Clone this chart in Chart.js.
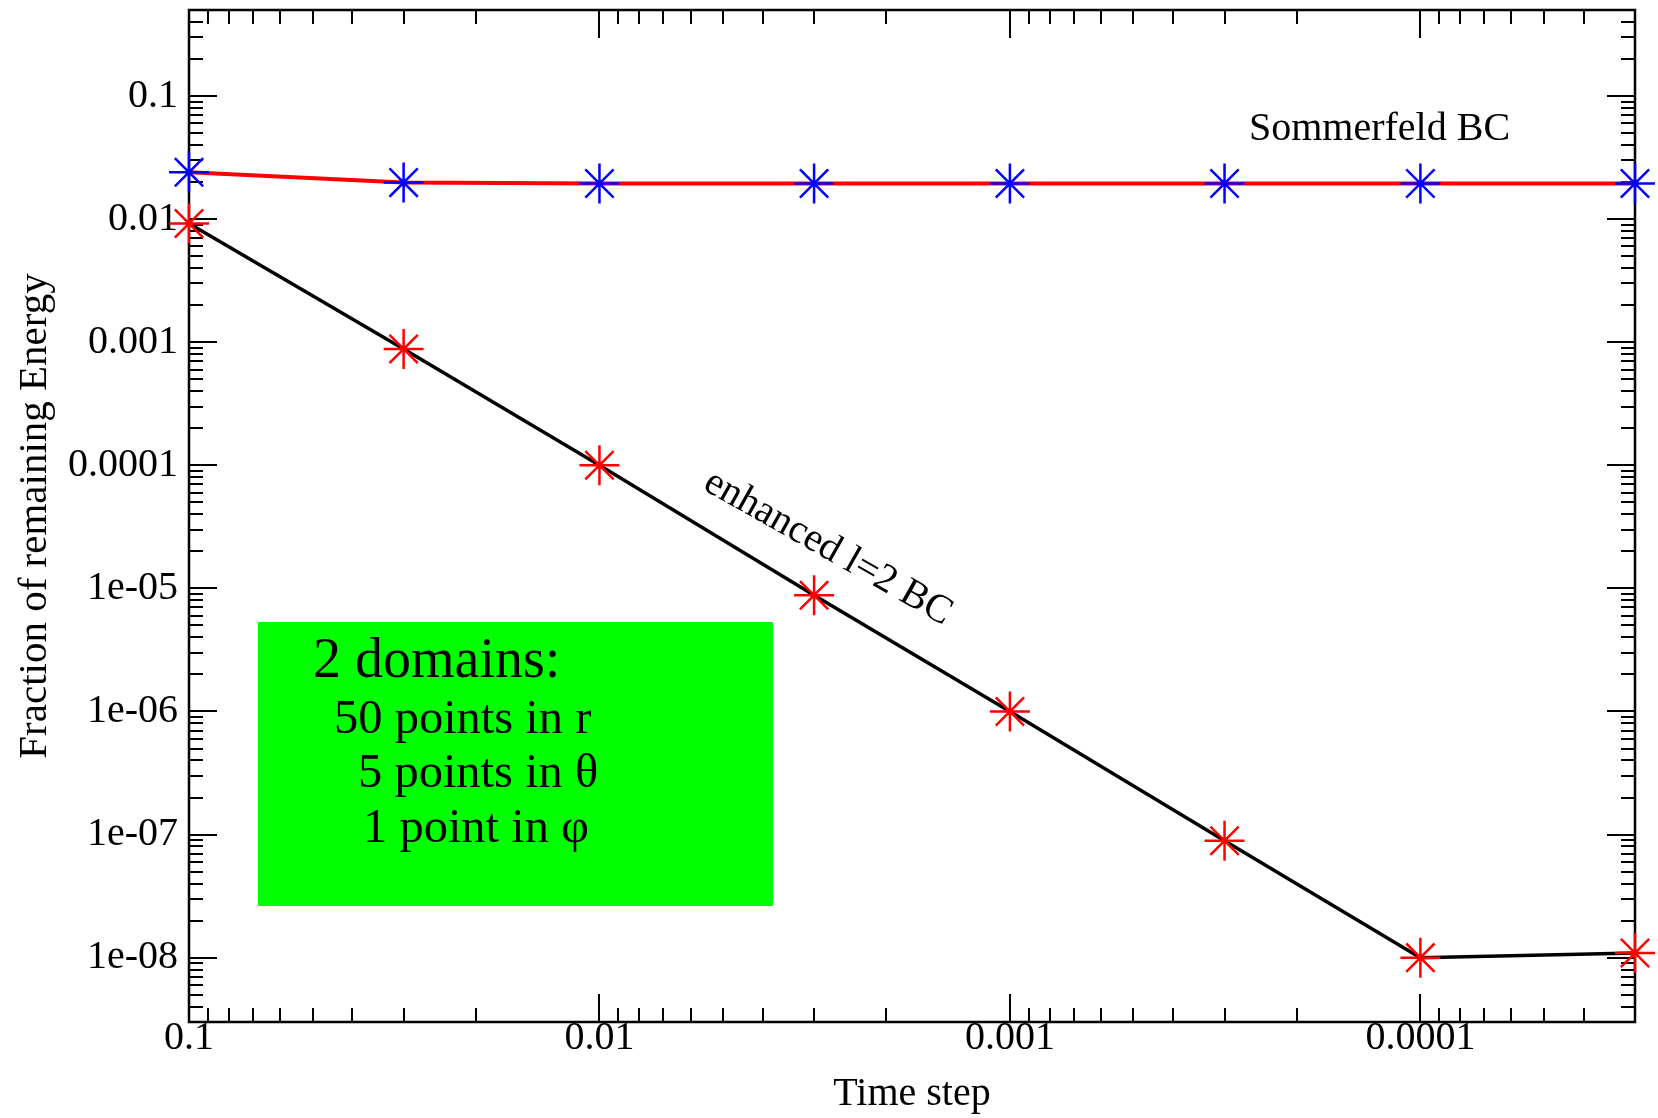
<!DOCTYPE html>
<html>
<head>
<meta charset="utf-8">
<script src="https://cdn.jsdelivr.net/npm/chart.js@4/dist/chart.umd.min.js"></script>
<style>
  html, body { margin: 0; padding: 0; background: #ffffff; }
  #wrap { width: 1658px; height: 1118px; }
</style>
</head>
<body>
<div id="wrap"><canvas id="c" width="1658" height="1118"></canvas></div>
<script>
// ---- data ----
const timeSteps  = [0.1, 0.03, 0.01, 0.003, 0.001, 0.0003, 0.0001, 0.00003];
const sommerfeld = [0.024, 0.0198, 0.0195, 0.0195, 0.0195, 0.0195, 0.0195, 0.0195];
const enhanced   = [0.0092, 0.00088, 0.0001, 8.8e-6, 1.0e-6, 8.9e-8, 1.0e-8, 1.09e-8];

const xTickValues = [0.1, 0.01, 0.001, 0.0001];
const xTickLabels = ['0.1', '0.01', '0.001', '0.0001'];
const yTickValues = [0.1, 0.01, 0.001, 0.0001, 1e-5, 1e-6, 1e-7, 1e-8];
const yTickLabels = ['0.1', '0.01', '0.001', '0.0001', '1e-05', '1e-06', '1e-07', '1e-08'];

const xRange = [0.00003, 0.1];
const yRange = [3e-9, 0.5];

const xTitle = 'Time step';
const yTitle = 'Fraction of remaining Energy';
const seriesNames = ['Sommerfeld BC', 'enhanced l=2 BC'];
const boxLines = ['2 domains:', '50 points in r', '5 points in \u03b8', '1 point in \u03c6'];

// ---- helpers ----
const SERIF = "'Liberation Serif', 'Times New Roman', Times, serif";

function logTicks(min, max) {
  const out = [];
  const e0 = Math.floor(Math.log10(min)), e1 = Math.ceil(Math.log10(max));
  for (let e = e0; e <= e1; e++) {
    for (let m = 1; m <= 9; m++) {
      const v = Number((m * Math.pow(10, e)).toPrecision(12));
      if (v >= min * (1 - 1e-9) && v <= max * (1 + 1e-9)) out.push({ value: v, major: m === 1 });
    }
  }
  return out;
}
function labelFor(values, labels, v) {
  const i = values.findIndex(t => Math.abs(t - v) / t < 1e-6);
  return i >= 0 ? labels[i] : '';
}

const framePlugin = {
  id: 'frameTicks',
  beforeDatasetsDraw(chart) {
    const { ctx, chartArea: { left, right, top, bottom } } = chart;
    const xs = chart.scales.x, ys = chart.scales.y;
    ctx.save();
    ctx.strokeStyle = '#000';
    ctx.lineWidth = 2;
    ctx.beginPath();
    xs.ticks.forEach(t => {
      const p = Math.round(xs.getPixelForValue(t.value));
      const len = t.major ? 28 : 14;
      ctx.moveTo(p, bottom); ctx.lineTo(p, bottom - len);
      ctx.moveTo(p, top); ctx.lineTo(p, top + len);
    });
    ys.ticks.forEach(t => {
      const p = Math.round(ys.getPixelForValue(t.value));
      const len = t.major ? 28 : 14;
      ctx.moveTo(left, p); ctx.lineTo(left + len, p);
      ctx.moveTo(right, p); ctx.lineTo(right - len, p);
    });
    ctx.stroke();
    ctx.lineWidth = 2.5;
    ctx.strokeRect(left, top, right - left, bottom - top);
    ctx.restore();
  },
  afterDatasetsDraw(chart) {
    const { ctx } = chart;
    ctx.save();
    // green info box
    ctx.fillStyle = '#00ff00';
    ctx.fillRect(258, 622, 515, 284);
    ctx.fillStyle = '#000';
    ctx.textBaseline = 'alphabetic';
    ctx.textAlign = 'left';
    ctx.font = '56px ' + SERIF;
    ctx.fillText(boxLines[0], 313, 677);
    ctx.font = '48.5px ' + SERIF;
    ctx.fillText(boxLines[1], 334, 733);
    ctx.fillText(boxLines[2], 358, 787);
    ctx.fillText(boxLines[3], 363, 842);
    // series annotations
    ctx.font = '40px ' + SERIF;
    ctx.fillText(seriesNames[0], 1249, 140);
    ctx.save();
    ctx.translate(828, 548);
    ctx.rotate(29.5 * Math.PI / 180);
    ctx.textAlign = 'center';
    ctx.textBaseline = 'middle';
    ctx.fillText(seriesNames[1], 0, 0);
    ctx.restore();
    ctx.restore();
  }
};

const chart = new Chart(document.getElementById('c'), {
  type: 'line',
  data: {
    datasets: [
      {
        label: seriesNames[0],
        data: timeSteps.map((t, i) => ({ x: t, y: sommerfeld[i] })),
        borderColor: '#ff0000', borderWidth: 4,
        pointStyle: 'star', pointRadius: 20, pointBorderWidth: 2.5,
        pointBorderColor: '#0000ff', pointBackgroundColor: '#0000ff',
        fill: false, tension: 0, clip: false
      },
      {
        label: seriesNames[1],
        data: timeSteps.map((t, i) => ({ x: t, y: enhanced[i] })),
        borderColor: '#000000', borderWidth: 3.5,
        pointStyle: 'star', pointRadius: 20, pointBorderWidth: 2.5,
        pointBorderColor: '#ff0000', pointBackgroundColor: '#ff0000',
        fill: false, tension: 0, clip: false
      }
    ]
  },
  options: {
    responsive: false,
    animation: false,
    events: [],
    layout: { autoPadding: false, padding: { left: 0, top: 10, right: 23, bottom: 0 } },
    plugins: { legend: { display: false }, tooltip: { enabled: false } },
    scales: {
      x: {
        type: 'logarithmic', reverse: true, min: xRange[0], max: xRange[1],
        grid: { display: false, drawTicks: false },
        border: { display: false },
        afterBuildTicks: s => { s.ticks = logTicks(xRange[0], xRange[1]); },
        afterFit: s => { s.height = 96; s.paddingLeft = 0; s.paddingRight = 0; },
        title: { display: true, text: xTitle, color: '#000', font: { family: SERIF, size: 40 }, padding: { top: 0, bottom: 0 } },
        ticks: {
          autoSkip: false, maxRotation: 0, minRotation: 0, padding: -8, color: '#000',
          font: { family: SERIF, size: 40 },
          callback: v => labelFor(xTickValues, xTickLabels, v)
        }
      },
      y: {
        type: 'logarithmic', min: yRange[0], max: yRange[1],
        grid: { display: false, drawTicks: false },
        border: { display: false },
        afterBuildTicks: s => { s.ticks = logTicks(yRange[0], yRange[1]); },
        afterFit: s => { s.width = 189; s.paddingTop = 0; s.paddingBottom = 0; },
        title: { display: true, text: yTitle, color: '#000', font: { family: SERIF, size: 41 }, padding: { top: 11, bottom: 0 } },
        ticks: {
          autoSkip: false, padding: 11, color: '#000',
          font: { family: SERIF, size: 40 },
          callback: v => labelFor(yTickValues, yTickLabels, v)
        }
      }
    }
  },
  plugins: [framePlugin]
});
</script>
</body>
</html>
